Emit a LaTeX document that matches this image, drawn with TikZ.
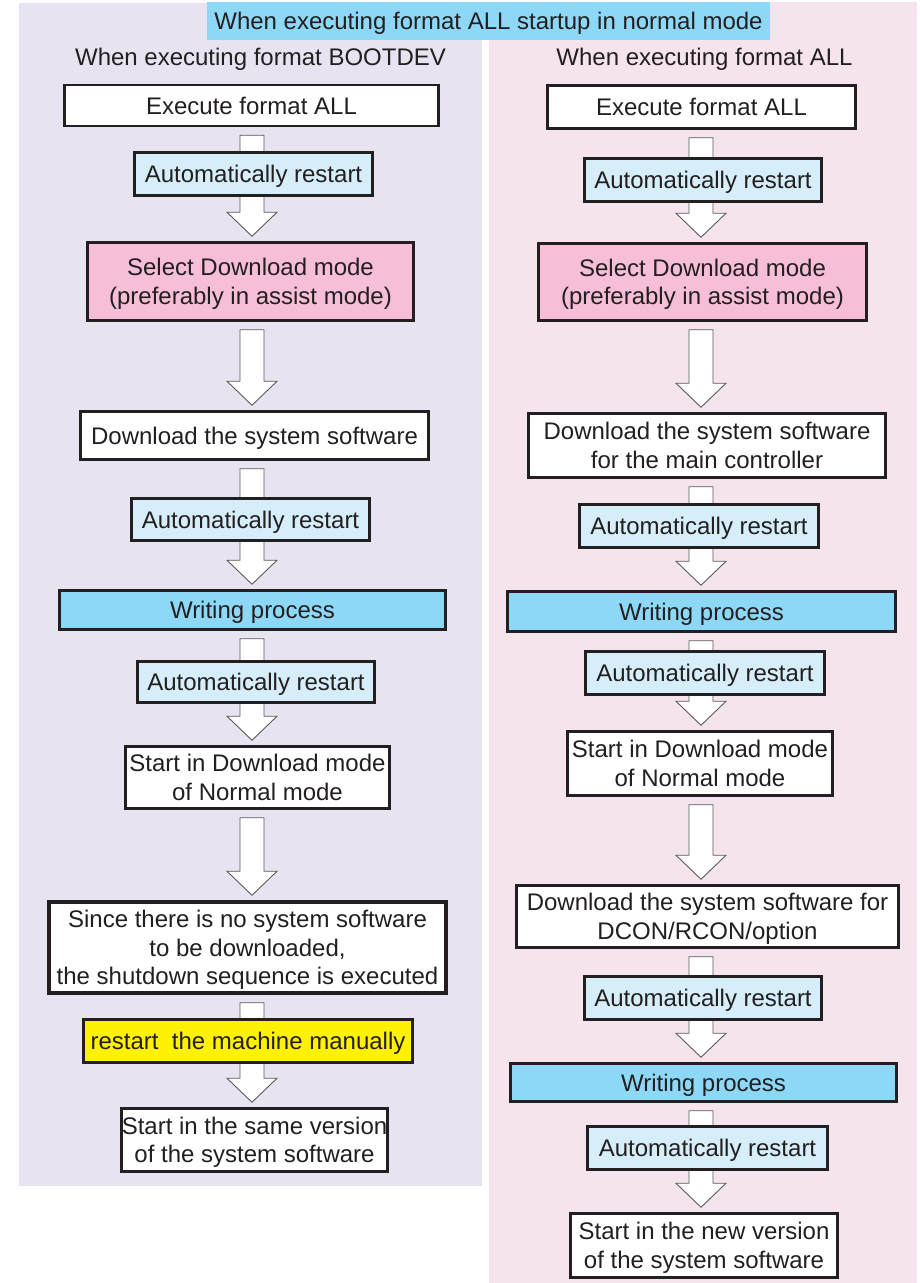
\documentclass[tikz,border=0pt]{standalone}
\usepackage{fontspec}
\setmainfont{Liberation Sans}
\usetikzlibrary{calc}

\definecolor{lavbg}{RGB}{232,227,240}
\definecolor{pinkbg}{RGB}{245,228,238}
\definecolor{skyblue}{RGB}{141,216,246}
\definecolor{paleblue}{RGB}{214,238,249}
\definecolor{rosebox}{RGB}{246,190,215}
\definecolor{signyellow}{RGB}{255,242,0}
\definecolor{inkgray}{RGB}{35,31,32}
\definecolor{arrgray}{RGB}{90,90,90}

\tikzset{
  txt/.style={text=inkgray, font=\fontsize{24}{28.5}\selectfont, align=center, inner sep=0pt, text depth=0pt},
  box/.style={txt, draw=inkgray, line width=2.5pt, fill=white},
  restartbox/.style={box, fill=paleblue},
  writebox/.style={box, fill=skyblue},
  modebox/.style={box, fill=rosebox},
  flowarr/.style={draw=arrgray, line width=0.9pt, fill=white, line join=miter}
}

% hollow block arrow from one box down to the next, on column #1
\newcommand\flowarrow[3]{%
  \path[flowarr] let \p1=(#2.south -| #1), \p2=(#3.north -| #1) in
    (\x1-12pt,\y1-8pt) -- (\x1+12pt,\y1-8pt) -- (\x1+12pt,\y2+29pt)
    -- (\x1+25pt,\y2+29pt) -- (\x1,\y2+5pt) -- (\x1-25pt,\y2+29pt)
    -- (\x1-12pt,\y2+29pt) -- cycle;}

\begin{document}
\begin{tikzpicture}[x=1pt,y=-1pt]
\useasboundingbox (0,0) rectangle (919,1283);

% backgrounds of the two columns
\fill[lavbg] (19,3) rectangle (482,1186);
\fill[pinkbg] (489,2) rectangle (917,1283);

\node[txt, fill=skyblue, minimum width=563, minimum height=38] (title) at (488.5,21)
  {When executing format ALL startup in normal mode};
\node[txt] (headL) at (260.5,57) {When executing format BOOTDEV};
\node[txt] (headR) at (704.5,57) {When executing format ALL};

\coordinate (colL) at (252,0);
\coordinate (colR) at (701,0);

% left column: format BOOTDEV
\node[box, minimum width=374, minimum height=41] (l1) at (251.5,105.5) {Execute format ALL};
\node[modebox, minimum width=326, minimum height=78] (l3) at (250.5,281.5)
  {Select Download mode\\(preferably in assist mode)};
\node[box, minimum width=348, minimum height=48] (l4) at (254.5,435.5) {Download the system software};
\node[writebox, minimum width=386, minimum height=39] (l6) at (252.5,610) {Writing process};
\node[box, minimum width=264, minimum height=62] (l8) at (257.5,777.5)
  {Start in Download mode\\of Normal mode};
\node[box, line width=3.5pt, minimum width=397, minimum height=91] (l9) at (247.5,947.5)
  {Since there is no system software\\to be downloaded,\\the shutdown sequence is executed};
\node[box, minimum width=266, minimum height=63] (l11) at (254.5,1140)
  {Start in the same version\\of the system software};

% right column: format ALL
\node[box, minimum width=308, minimum height=43] (r1) at (701.5,107) {Execute format ALL};
\node[modebox, minimum width=328, minimum height=77] (r3) at (702.5,282)
  {Select Download mode\\(preferably in assist mode)};
\node[box, minimum width=357, minimum height=64] (r4) at (707,445.5)
  {Download the system software\\for the main controller};
\node[writebox, minimum width=388, minimum height=40] (r6) at (701.5,611.5) {Writing process};
\node[box, minimum width=265, minimum height=64] (r8) at (700,763.5)
  {Start in Download mode\\of Normal mode};
\node[box, minimum width=382, minimum height=62] (r9) at (707.5,916.5)
  {Download the system software for\\DCON/RCON/option};
\node[writebox, minimum width=386, minimum height=38] (r11) at (703.5,1082.5) {Writing process};
\node[box, minimum width=267, minimum height=64] (r13) at (704,1245.5)
  {Start in the new version\\of the system software};

% arrows between the steps
\flowarrow{colL}{l1}{l3}
\flowarrow{colL}{l3}{l4}
\flowarrow{colL}{l4}{l6}
\flowarrow{colL}{l6}{l8}
\flowarrow{colL}{l8}{l9}
\flowarrow{colL}{l9}{l11}
\flowarrow{colR}{r1}{r3}
\flowarrow{colR}{r3}{r4}
\flowarrow{colR}{r4}{r6}
\flowarrow{colR}{r6}{r8}
\flowarrow{colR}{r8}{r9}
\flowarrow{colR}{r9}{r11}
\flowarrow{colR}{r11}{r13}

% restart steps sit on top of the arrows
\node[restartbox, minimum width=238, minimum height=43] (l2) at (253.5,174) {Automatically restart};
\node[restartbox, minimum width=238, minimum height=42] (l5) at (250.5,519.5) {Automatically restart};
\node[restartbox, minimum width=237, minimum height=41] (l7) at (256,682) {Automatically restart};
\node[box, fill=signyellow, minimum width=329, minimum height=43] (l10) at (248,1041)
  {restart\ \ the machine manually};
\node[restartbox, minimum width=237, minimum height=43] (r2) at (703,180) {Automatically restart};
\node[restartbox, minimum width=239, minimum height=43] (r5) at (699,526) {Automatically restart};
\node[restartbox, minimum width=239, minimum height=43] (r7) at (705,673) {Automatically restart};
\node[restartbox, minimum width=237, minimum height=43] (r10) at (703,998) {Automatically restart};
\node[restartbox, minimum width=240, minimum height=43] (r12) at (707.5,1148) {Automatically restart};
\end{tikzpicture}
\end{document}
